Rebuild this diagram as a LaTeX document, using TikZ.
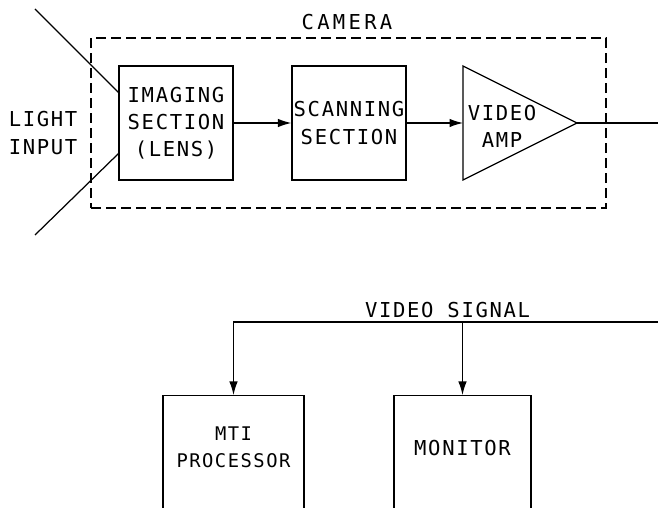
\documentclass[tikz,border=0pt]{standalone}
\usepackage{fontspec}
\newfontfamily\plotfont{DejaVu Sans Mono}[LetterSpace=8]
\newfontfamily\plotwide{DejaVu Sans Mono}[LetterSpace=16]
\usetikzlibrary{arrows.meta}

\begin{document}
\begin{tikzpicture}[>={Latex[length=2.7mm,width=1.7mm]},
  blk/.style={draw,line width=0.7pt,minimum width=2.28cm,minimum height=2.28cm,
    align=center,inner sep=0pt,font=\plotfont\fontsize{11.7}{15.4}\selectfont},
  lbl/.style={align=center,inner sep=0pt,font=\plotfont\fontsize{11.7}{15.4}\selectfont},
  sig/.style={->,line width=0.7pt}]

\useasboundingbox (0,0) rectangle (13.16,10.16);
\clip (0,0) rectangle (13.16,10.16);

% camera
\node[draw,line width=0.7pt,dash pattern=on 0.2cm off 0.1cm,minimum width=10.30cm,
  minimum height=3.40cm] (cam) at (6.97,7.70) {};
\node[lbl,font=\plotwide\fontsize{11.7}{15.4}\selectfont] (camlbl) at (6.94,9.72) {CAMERA};
\node[lbl] (light) at (0.86,7.50) {LIGHT\\INPUT};

\node[blk] (img) at (3.52,7.70) {IMAGING\\SECTION\\(LENS)};
\node[blk] (scan) at (6.98,7.70) {SCANNING\\SECTION};

\coordinate (amptop) at (9.26,8.84);
\coordinate (ampbot) at (9.26,6.56);
\coordinate (amptip) at (11.54,7.70);
\coordinate (ampin) at (9.26,7.70);
\draw[line width=0.7pt] (amptop) -- (amptip) -- (ampbot) -- cycle;
\node[lbl] (amp) at (10.04,7.63) {VIDEO\\AMP};

\coordinate (lt) at (0.70,9.98);
\coordinate (lb) at (0.70,5.46);
\coordinate (out) at (13.16,7.70);
\draw[line width=0.7pt] (lt) -- (img.152);
\draw[line width=0.7pt] (lb) -- (img.208);
\draw[sig] (img) -- (scan);
\draw[sig] (scan) -- (ampin);
\draw[line width=0.7pt] (amptip) -- (out);

% display side
\node[draw,line width=0.7pt,anchor=north,minimum width=2.82cm,minimum height=2.8cm] (mti) at (4.67,2.26) {};
\node[draw,line width=0.7pt,anchor=north,minimum width=2.74cm,minimum height=2.8cm] (mon) at (9.25,2.26) {};
\node[lbl,font=\plotfont\fontsize{10.7}{15.4}\selectfont] (mtilbl) at (4.67,1.21) {MTI\\PROCESSOR};
\node[lbl] (monlbl) at (9.25,1.20) {MONITOR};
\node[lbl] (viddlbl) at (8.95,3.96) {VIDEO SIGNAL};

\coordinate (bus) at (13.16,3.72);
\draw[sig] (bus) -| (mti.north);
\draw[sig] (mon.north |- bus) -- (mon.north);
\end{tikzpicture}
\end{document}
